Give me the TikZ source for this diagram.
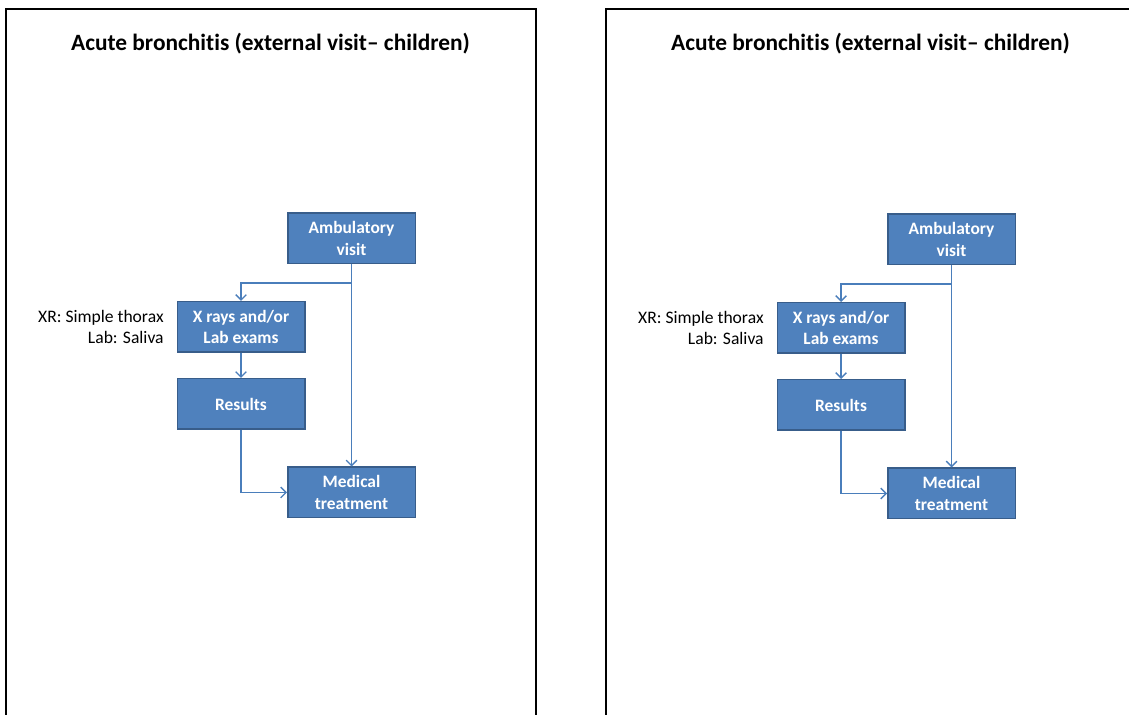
\documentclass[tikz,border=0pt]{standalone}
\usepackage{fontspec}
\setmainfont{Carlito}[Ligatures={NoCommon}]
\usepackage{tikz}
\usetikzlibrary{arrows.meta}

\definecolor{boxblue}{HTML}{4F81BD}
\definecolor{boxedge}{HTML}{385D8A}
\definecolor{linkblue}{HTML}{4A7EBB}

\begin{document}
\begin{tikzpicture}[
  stepbox/.style={draw=boxedge, line width=0.85pt, fill=boxblue, text=white, align=center,
    font=\bfseries\fontsize{9.9}{12}\selectfont, minimum width=2.55cm, minimum height=1.01cm, inner sep=0pt},
  link/.style={draw=linkblue, line width=0.8pt},
  arr/.style={link, -{Straight Barb[length=3pt,width=6pt]}},
  frame/.style={line width=1.2pt},
  heading/.style={font=\bfseries\fontsize{13.3}{15}\selectfont},
  note/.style={font=\fontsize{10}{11.5}\selectfont, align=right, anchor=east, inner sep=0pt}]
\clip (0,0) rectangle (22.58,14.3);

% left page
\draw [frame] (0.12,-0.5) -- (0.12,14.12) -- (10.72,14.12) -- (10.72,-0.5);
\node [heading] (a-title) at (5.41,13.42) {Acute bronchitis (external visit– children)};

\node [stepbox] (a-amb) at (7.03,9.53) {Ambulatory\\visit};
\node [stepbox] (a-xr) at (4.82,7.76) {X rays and/or\\Lab exams};
\node [stepbox] (a-res) at (4.82,6.22) {Results};
\node [stepbox] (a-med) at (7.03,4.45) {Medical\\treatment};
\node [note] (a-note) at (3.28,7.76) {XR: Simple thorax\\Lab: Saliva};
\coordinate (a-fork) at (7.03,8.64);

\draw [arr] (a-amb.south) -- (a-med.north);
\draw [arr] (a-fork) -| (a-xr.north);
\draw [arr] (a-xr.south) -- (a-res.north);
\draw [arr] (a-res.south) |- (a-med.west);

% right page
\begin{scope}[shift={(12,-0.02)}]
\draw [frame] (0.12,-0.5) -- (0.12,14.14) -- (10.72,14.14) -- (10.72,-0.5);
\node [heading] (b-title) at (5.41,13.44) {Acute bronchitis (external visit– children)};

\node [stepbox] (b-amb) at (7.03,9.53) {Ambulatory\\visit};
\node [stepbox] (b-xr) at (4.82,7.76) {X rays and/or\\Lab exams};
\node [stepbox] (b-res) at (4.82,6.22) {Results};
\node [stepbox] (b-med) at (7.03,4.45) {Medical\\treatment};
\node [note] (b-note) at (3.28,7.76) {XR: Simple thorax\\Lab: Saliva};
\coordinate (b-fork) at (7.03,8.64);

\draw [arr] (b-amb.south) -- (b-med.north);
\draw [arr] (b-fork) -| (b-xr.north);
\draw [arr] (b-xr.south) -- (b-res.north);
\draw [arr] (b-res.south) |- (b-med.west);
\end{scope}
\end{tikzpicture}
\end{document}
